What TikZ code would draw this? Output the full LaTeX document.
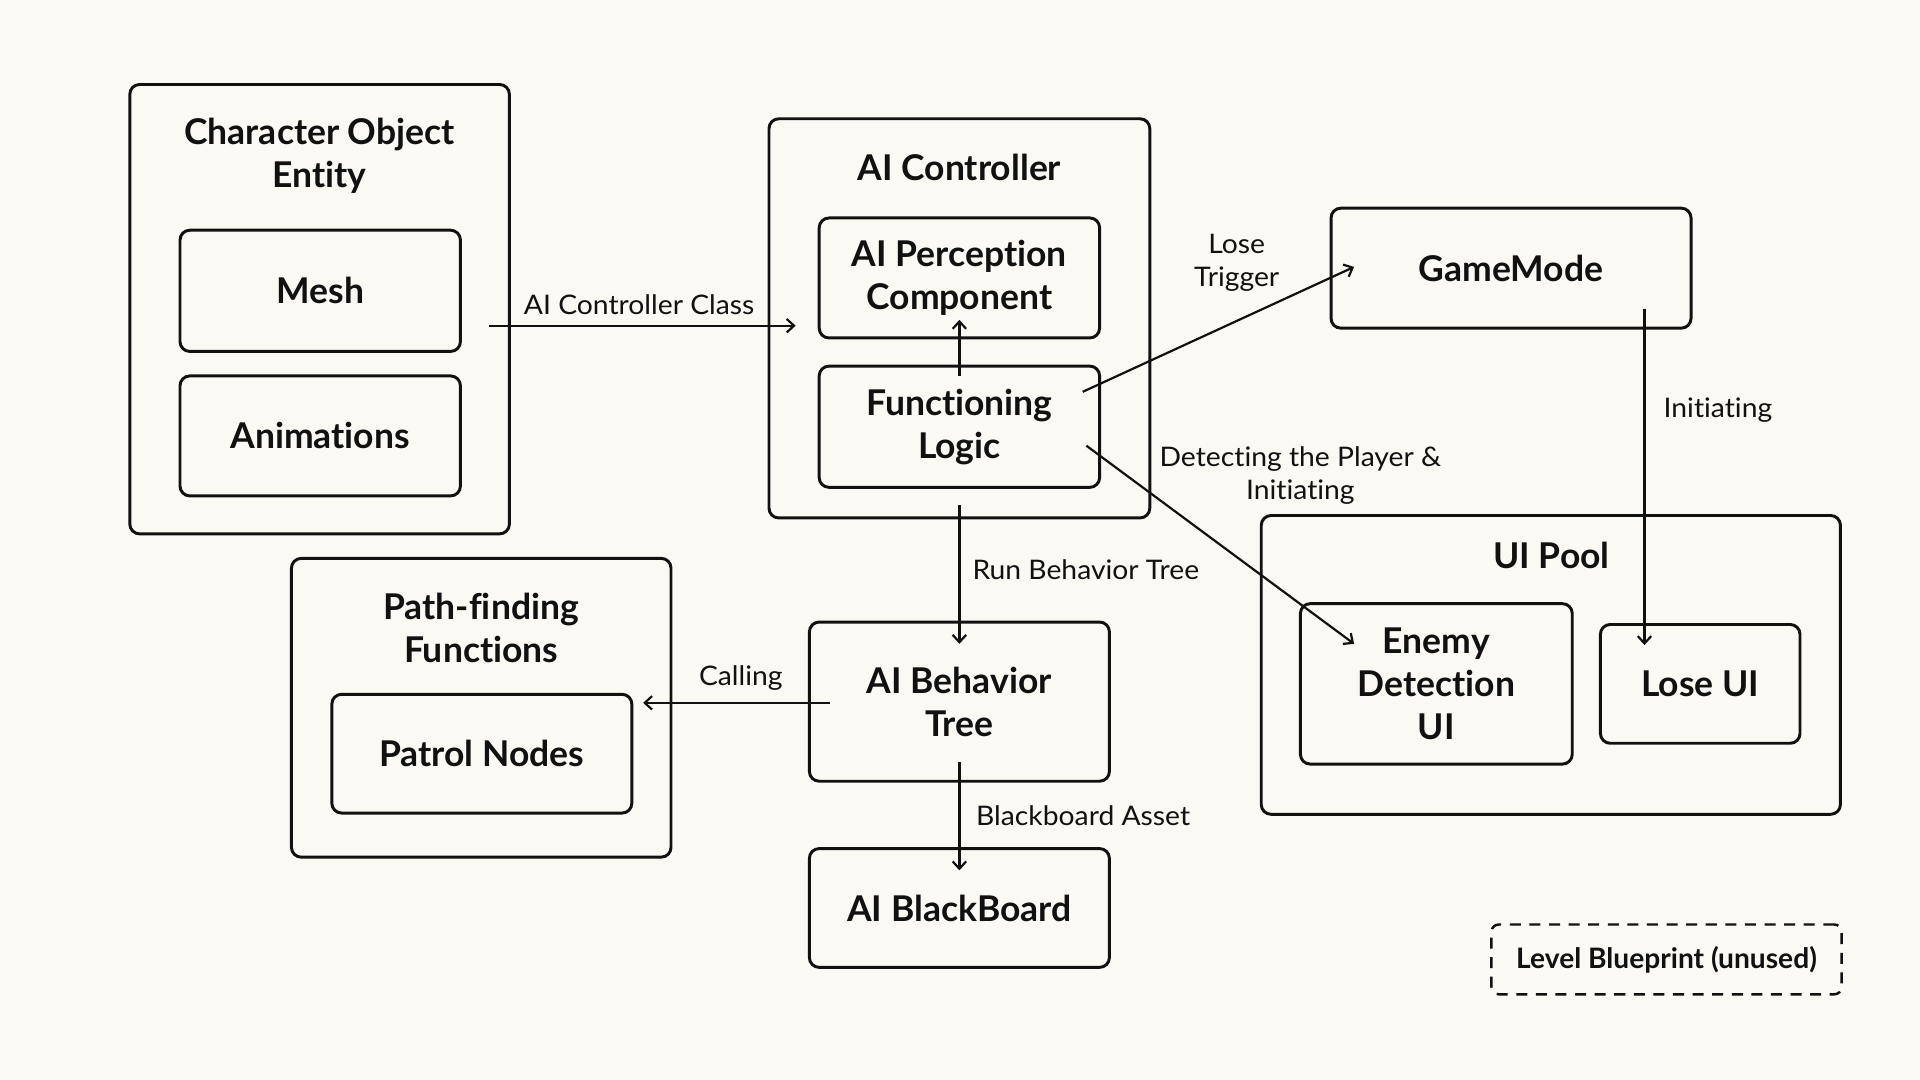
\documentclass[tikz,border=0pt]{standalone}
\usepackage{fontspec}
\setmainfont{Lato}[Ligatures=NoCommon]
\newfontfamily\lblfont{Lato}[Ligatures=NoCommon, FakeStretch=1.05]
\usetikzlibrary{arrows.meta,calc}
\definecolor{bgc}{HTML}{FBF9F3}
\definecolor{ink}{HTML}{111111}
\tikzset{
  box/.style={draw=ink, line width=2.4pt, rounded corners=8pt, inner sep=0pt, align=center,
    text=ink, font=\bfseries\fontsize{29}{35}\selectfont},
  ttl/.style={inner sep=0pt, align=center, text=ink, font=\bfseries\fontsize{29}{35}\selectfont},
  lbl/.style={inner sep=0pt, align=center, text=ink, font=\lblfont\fontsize{22}{27}\selectfont},
  arr/.style={draw=ink, line width=1.8pt, -{Straight Barb[length=6pt,width=11pt]}},
}
\begin{document}
\begin{tikzpicture}[x=1pt,y=-1pt]
\fill[bgc] (0,0) rectangle (1568,882);
\useasboundingbox (0,0) rectangle (1568,882);
% Character Object Entity
\node[box, minimum width=310pt, minimum height=367pt] (char) at (261,252.5) {};
\node[ttl] (chart) at (261,127.5) {Character Object\\Entity};
\node[box, minimum width=229pt, minimum height=99pt] (mesh) at (261.5,237.5) {Mesh};
\node[box, minimum width=229pt, minimum height=98pt] (anim) at (261.5,356) {Animations};
% AI Controller
\node[box, minimum width=311pt, minimum height=326pt] (aictrl) at (783.5,260) {};
\node[ttl] (aictrlt) at (783.5,137) {AI Controller};
\node[box, minimum width=229pt, minimum height=98pt] (percep) at (783.5,227) {AI Perception\\Component};
\node[box, minimum width=229pt, minimum height=99pt] (func) at (783.5,348.5) {Functioning\\Logic};
% GameMode
\node[box, minimum width=294pt, minimum height=98pt] (game) at (1234,219) {GameMode};
% UI Pool
\node[box, minimum width=473pt, minimum height=244pt] (uipool) at (1266.5,543) {};
\node[ttl] (uipoolt) at (1267,454) {UI Pool};
\node[box, minimum width=222pt, minimum height=131pt] (enemy) at (1173,558.5) {Enemy\\Detection\\UI};
\node[box, minimum width=163pt, minimum height=97pt] (lose) at (1388.5,558.5) {Lose UI};
% Path-finding
\node[box, minimum width=310pt, minimum height=244pt] (path) at (393,578) {};
\node[ttl] (patht) at (393,513) {Path-finding\\Functions};
\node[box, minimum width=245pt, minimum height=97pt] (patrol) at (393.5,615.5) {Patrol Nodes};
% Behavior tree / blackboard
\node[box, minimum width=245pt, minimum height=130pt] (bt) at (783.5,573) {AI Behavior\\Tree};
\node[box, minimum width=245pt, minimum height=97pt] (bb) at (783.5,741.5) {AI BlackBoard};
% Level blueprint
\node[box, dashed, dash pattern=on 9pt off 7pt, line width=2pt, rounded corners=6pt,
  minimum width=286pt, minimum height=57pt, font=\bfseries\fontsize{23}{28}\selectfont] (level) at (1361,783.5) {Level Blueprint (unused)};
% connectors
\draw[arr] ($(char.east)+(-18,13.5)$) -- ($(aictrl.west)+(23,6)$);
\node[lbl] (l1) at (522,249) {AI Controller Class};
\draw[arr] ($(func.north)+(0,9)$) -- ($(percep.south)+(0,-16)$);
\draw[arr] ($(func.east)+(-15,-28.5)$) -- ($(game.west)+(20,-1)$);
\node[lbl] (l2) at (1010,215) {Lose\\Trigger};
\draw[arr] ($(game.south)+(109,-17)$) -- ($(lose.north)+(-45.5,18)$);
\node[lbl] (l3) at (1403,335) {Initiating};
\draw[arr] ($(func.east)+(-12,15.5)$) -- ($(enemy.north west)+(45,34)$);
\node[lbl] (l4) at (1062,388) {Detecting the Player \&\\Initiating};
\draw[arr] ($(aictrl.south)+(0,-12)$) -- ($(bt.north)+(0,19)$);
\node[lbl, anchor=west] (l5) at (794,465) {Run Behavior Tree};
\draw[arr] ($(bt.west)+(18,1)$) -- ($(path.east)+(-24,-4)$);
\node[lbl] (l6) at (605,554) {Calling};
\draw[arr] ($(bt.south)+(0,-17)$) -- ($(bb.north)+(0,19)$);
\node[lbl, anchor=west] (l7) at (797,666) {Blackboard Asset};
\end{tikzpicture}
\end{document}
